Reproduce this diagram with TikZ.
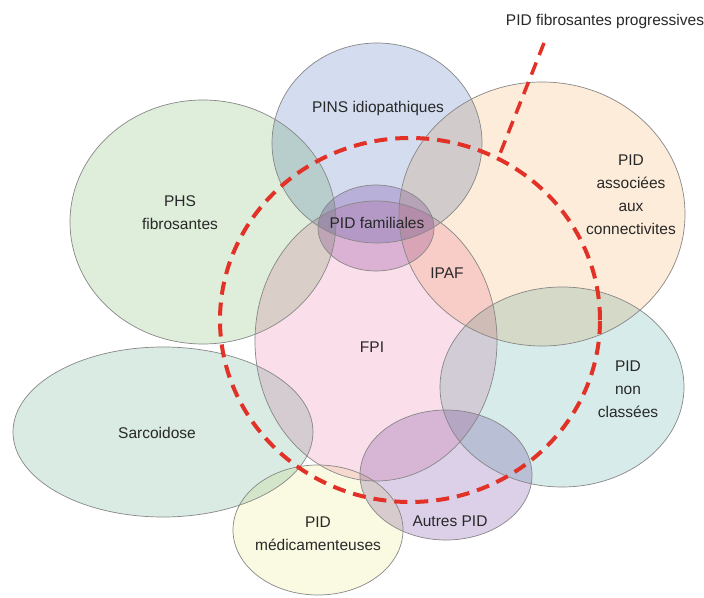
\documentclass[tikz,border=0pt]{standalone}
\usepackage{fontspec}
\setmainfont{Liberation Sans}
\usetikzlibrary{calc}
\definecolor{cphs}{RGB}{222,238,218}
\definecolor{csarc}{RGB}{217,235,227}
\definecolor{cpins}{RGB}{211,221,239}
\definecolor{cpeach}{RGB}{253,236,217}
\definecolor{cnoncl}{RGB}{215,235,234}
\definecolor{cfpi}{RGB}{250,222,234}
\definecolor{cfam}{RGB}{224,204,232}
\definecolor{cautres}{RGB}{220,208,233}
\definecolor{cmedic}{RGB}{250,250,226}
\definecolor{coutline}{RGB}{135,135,135}
\definecolor{cred}{RGB}{226,50,40}
\definecolor{ctext}{RGB}{40,40,40}
\tikzset{
  setline/.style={draw=coutline, line width=0.7pt},
  lbl/.style={text=ctext, font=\fontsize{15.5}{23}\selectfont, align=center, inner sep=0pt},
  reddash/.style={draw=cred, line width=4pt, dash pattern=on 13pt off 8pt},
  redline/.style={draw=cred, line width=3.5pt, dash pattern=on 13pt off 8pt}
}
\begin{document}
\begin{tikzpicture}[x=1pt,y=1pt]
\useasboundingbox (0,0) rectangle (704,597);
\fill[white] (0,0) rectangle (704,597);
% fills
\begin{scope}[blend mode=multiply]
\fill[cphs] (203,375) ellipse [x radius=133, y radius=122];
\fill[csarc] (163,165) ellipse [x radius=150, y radius=85];
\fill[cpins] (377,454) ellipse [x radius=105, y radius=100];
\fill[cpeach] (542,383) ellipse [x radius=143, y radius=132];
\fill[cnoncl] (562,210) ellipse [x radius=122, y radius=100];
\fill[cfpi] (376,256) ellipse [x radius=121, y radius=140];
\fill[cfam] (376,369) ellipse [x radius=58, y radius=43];
\fill[cautres] (446,122) ellipse [x radius=86, y radius=65];
\fill[cmedic] (318,67) ellipse [x radius=85, y radius=65];
\end{scope}
% outlines
\begin{scope}[setline]
\draw (203,375) ellipse [x radius=133, y radius=122];
\draw (163,165) ellipse [x radius=150, y radius=85];
\draw (377,454) ellipse [x radius=105, y radius=100];
\draw (542,383) ellipse [x radius=143, y radius=132];
\draw (562,210) ellipse [x radius=122, y radius=100];
\draw (376,256) ellipse [x radius=121, y radius=140];
\draw (376,369) ellipse [x radius=58, y radius=43];
\draw (446,122) ellipse [x radius=86, y radius=65];
\draw (318,67) ellipse [x radius=85, y radius=65];
\end{scope}
% progressive fibrosing circle
\draw[reddash] (410,277) ellipse [x radius=190, y radius=182];
\coordinate (pfpTop) at (544,554);
\coordinate (pfpEnd) at ($(410,277)+(62.4:190 and 182)$);
\draw[redline] (pfpTop) -- (pfpEnd);
% labels
\node[lbl] (pfp) at (605,576) {PID fibrosantes progressives};
\node[lbl] (pins) at (378,489) {PINS idiopathiques};
\node[lbl] (phs) at (180,384.5) {PHS\\fibrosantes};
\node[lbl] (ctd) at (631,402.5) {PID\\associées\\aux\\connectivites};
\node[lbl] (fam) at (377,374) {PID familiales};
\node[lbl] (ipaf) at (447,324) {IPAF};
\node[lbl] (fpi) at (372,250) {FPI};
\node[lbl] (sarc) at (157,164) {Sarcoidose};
\node[lbl] (noncl) at (628,208) {PID\\non\\classées};
\node[lbl] (autres) at (450,76) {Autres PID};
\node[lbl] (medic) at (318,63.5) {PID\\médicamenteuses};
\end{tikzpicture}
\end{document}
